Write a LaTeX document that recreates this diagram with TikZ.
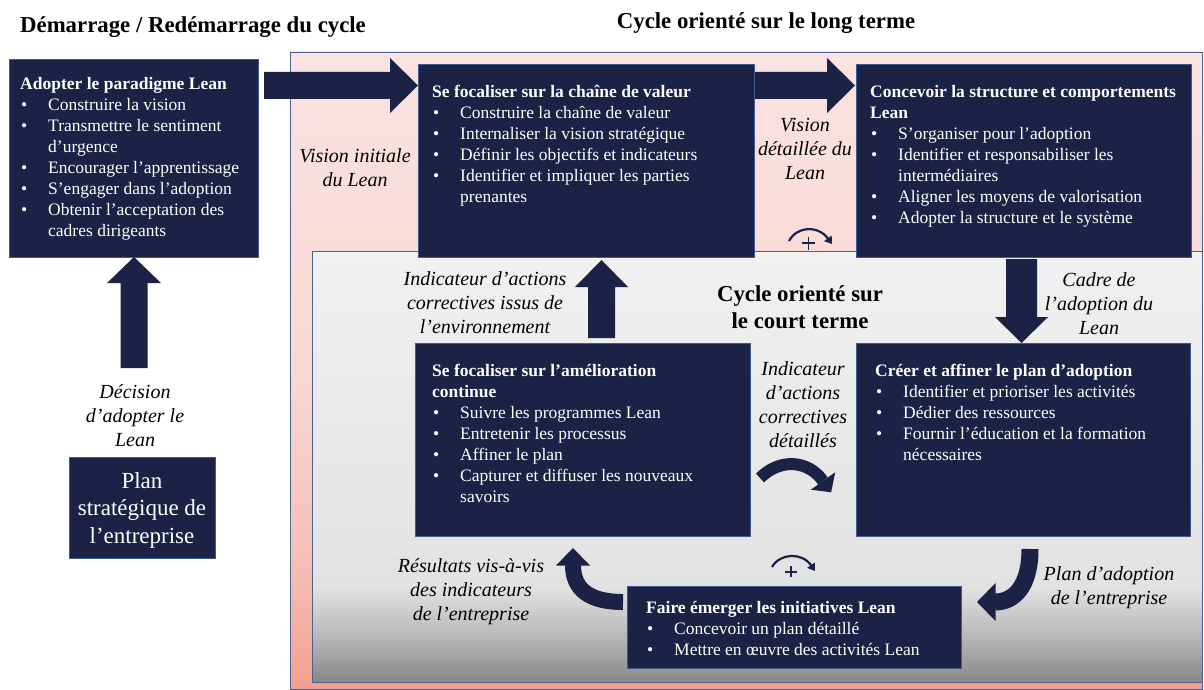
\documentclass[tikz,border=0pt]{standalone}
\usepackage{fontspec}
\setmainfont{Liberation Serif}
\usetikzlibrary{arrows.meta}
\definecolor{navy}{HTML}{1C2245}
\definecolor{boxline}{HTML}{3E5C92}
\definecolor{frameline}{HTML}{4C5F96}
\definecolor{pinkTop}{HTML}{FAE3E1}
\definecolor{pinkMid}{HTML}{F8D8D4}
\definecolor{pinkLow}{HTML}{F5C0B6}
\definecolor{pinkBot}{HTML}{F2A08E}
\definecolor{greyTop}{HTML}{F1F1F1}
\definecolor{greyMid}{HTML}{E2E2E2}
\definecolor{greyLow}{HTML}{B5B5B5}
\definecolor{greyBot}{HTML}{878787}
\pgfdeclareverticalshading{pinkshade}{100bp}{color(0bp)=(pinkBot); color(25bp)=(pinkBot); color(35bp)=(pinkLow); color(50bp)=(pinkMid); color(75bp)=(pinkTop); color(100bp)=(pinkTop)}
\pgfdeclareverticalshading{greyshade}{100bp}{color(0bp)=(greyBot); color(25bp)=(greyBot); color(30bp)=(greyLow); color(36bp)=(greyMid); color(75bp)=(greyTop); color(100bp)=(greyTop)}
\newcommand{\bu}{\makebox[28pt][l]{\hspace{1pt}\textbullet}}
\newcommand{\ct}{\hspace*{28pt}}
\begin{document}
\begin{tikzpicture}[x=1pt,y=-1pt,
  box/.style={draw=boxline, line width=0.8pt, fill=navy, inner sep=0, anchor=north west},
  btxt/.style={anchor=north west, inner sep=0, text=white, align=left, font=\fontsize{17.5}{21}\selectfont},
  lbl/.style={align=center, inner sep=0, font=\fontsize{20}{24}\selectfont\itshape},
  ttl/.style={inner sep=0, align=center, font=\fontsize{22.8}{27.5}\selectfont\bfseries},
  blk/.style={fill=navy},
  band/.style={draw=navy, line cap=butt},
  cyc/.style={draw=navy, line width=2.2pt, -{Triangle[length=7pt,width=9pt]}},
  plusmark/.style={draw=navy, line width=1.5pt}]
\useasboundingbox (0,0) rectangle (1204,690);
% frames
\shade[shading=pinkshade] (290,52) rectangle (1202,689);
\draw[frameline, line width=0.9pt] (290,52) rectangle (1202,689);
\shade[shading=greyshade] (312,251) rectangle (1202,682);
\draw[frameline, line width=0.9pt] (312,251) rectangle (1202,682);
% titles
\node[ttl] (t1) at (193,27) {Démarrage / Redémarrage du cycle};
\node[ttl] (t2) at (766,23) {Cycle orienté sur le long terme};
\node[ttl] (t3) at (800,307) {Cycle orienté sur\\le court terme};
% boxes
\node[box, minimum width=249, minimum height=198] (A) at (9,59) {};
\node[box, minimum width=336, minimum height=193] (B) at (418,64) {};
\node[box, minimum width=335, minimum height=193] (C) at (856,64) {};
\node[box, minimum width=335, minimum height=193] (D) at (415,343) {};
\node[box, minimum width=334, minimum height=193] (E) at (856,343) {};
\node[box, minimum width=334, minimum height=82] (F) at (627,586) {};
\node[box, minimum width=146, minimum height=101] (P) at (69,457) {};
% box texts
\node[btxt] (Atxt) at (20,77) {{\bfseries Adopter le paradigme Lean}\\
\bu Construire la vision\\
\bu Transmettre le sentiment\\
\ct d’urgence\\
\bu Encourager l’apprentissage\\
\bu S’engager dans l’adoption\\
\bu Obtenir l’acceptation des\\
\ct cadres dirigeants};
\node[btxt] (Btxt) at (432,85) {{\bfseries Se focaliser sur la chaîne de valeur}\\
\bu Construire la chaîne de valeur\\
\bu Internaliser la vision stratégique\\
\bu Définir les objectifs et indicateurs\\
\bu Identifier et impliquer les parties\\
\ct prenantes};
\node[btxt] (Ctxt) at (870,85) {{\bfseries Concevoir la structure et comportements}\\
{\bfseries Lean}\\
\bu S’organiser pour l’adoption\\
\bu Identifier et responsabiliser les\\
\ct intermédiaires\\
\bu Aligner les moyens de valorisation\\
\bu Adopter la structure et le système};
\node[btxt] (Dtxt) at (432,364) {{\bfseries Se focaliser sur l’amélioration}\\
{\bfseries continue}\\
\bu Suivre les programmes Lean\\
\bu Entretenir les processus\\
\bu Affiner le plan\\
\bu Capturer et diffuser les nouveaux\\
\ct savoirs};
\node[btxt] (Etxt) at (875,364) {{\bfseries Créer et affiner le plan d’adoption}\\
\bu Identifier et prioriser les activités\\
\bu Dédier des ressources\\
\bu Fournir l’éducation et la formation\\
\ct nécessaires};
\node[btxt] (Ftxt) at (646,601) {{\bfseries Faire émerger les initiatives Lean}\\
\bu Concevoir un plan détaillé\\
\bu Mettre en œuvre des activités Lean};
\node[inner sep=0, align=center, text=white, font=\fontsize{23}{27.5}\selectfont] (Ptxt) at (142,510) {Plan\\stratégique de\\l’entreprise};
% block arrows
\fill[blk] (264,72) -- (390,72) -- (390,58) -- (418,85.5) -- (390,113) -- (390,99) -- (264,99) -- cycle;
\fill[blk] (755,72) -- (827,72) -- (827,58) -- (855,85.5) -- (827,113) -- (827,99) -- (755,99) -- cycle;
\fill[blk] (120.5,368) -- (120.5,283) -- (107,283) -- (134,257) -- (161,283) -- (147.5,283) -- (147.5,368) -- cycle;
\fill[blk] (588,338) -- (588,287) -- (575,287) -- (601.5,260) -- (628,287) -- (615,287) -- (615,338) -- cycle;
\fill[blk] (1006,259) -- (1006,317) -- (995,317) -- (1021.5,343) -- (1048,317) -- (1037,317) -- (1037,259) -- cycle;
% curved arrows
\draw[band, line width=12pt] (760,478) .. controls (780,458) and (808,460) .. (823,481);
\fill[blk] (835.2,472.3) -- (831.1,492.3) -- (810.8,489.7) -- cycle;
\draw[band, line width=16pt] (623,602) .. controls (590,602) and (573,590) .. (573,565);
\fill[blk] (556,565.5) -- (573,548) -- (590,565.5) -- cycle;
\draw[band, line width=17pt] (1030,549) .. controls (1030,585) and (1015,602) .. (995,602);
\fill[blk] (995.5,583) -- (977,602) -- (995.5,621) -- cycle;
% cycle icons
\draw[cyc] (789,241) .. controls (797,226) and (818,225) .. (832,244);
\draw[plusmark] (802,243) -- (815,243) (808.5,237) -- (808.5,250);
\draw[cyc] (772,567) .. controls (780,553) and (802,552) .. (815,571);
\draw[plusmark] (785,572) -- (797,572) (791,566) -- (791,577);
% labels
\node[lbl] (l1) at (355,168) {Vision initiale\\du Lean};
\node[lbl] (l2) at (805,149) {Vision\\détaillée du\\Lean};
\node[lbl] (l3) at (135,416) {Décision\\d’adopter le\\Lean};
\node[lbl] (l4) at (485,303) {Indicateur d’actions\\correctives issus de\\l’environnement};
\node[lbl] (l5) at (1099,304) {Cadre de\\l’adoption du\\Lean};
\node[lbl] (l6) at (803,405) {Indicateur\\d’actions\\correctives\\détaillés};
\node[lbl] (l7) at (471,592) {Résultats vis-à-vis\\des indicateurs\\de l’entreprise};
\node[lbl] (l8) at (1109,588) {Plan d’adoption\\de l’entreprise};
\end{tikzpicture}
\end{document}
